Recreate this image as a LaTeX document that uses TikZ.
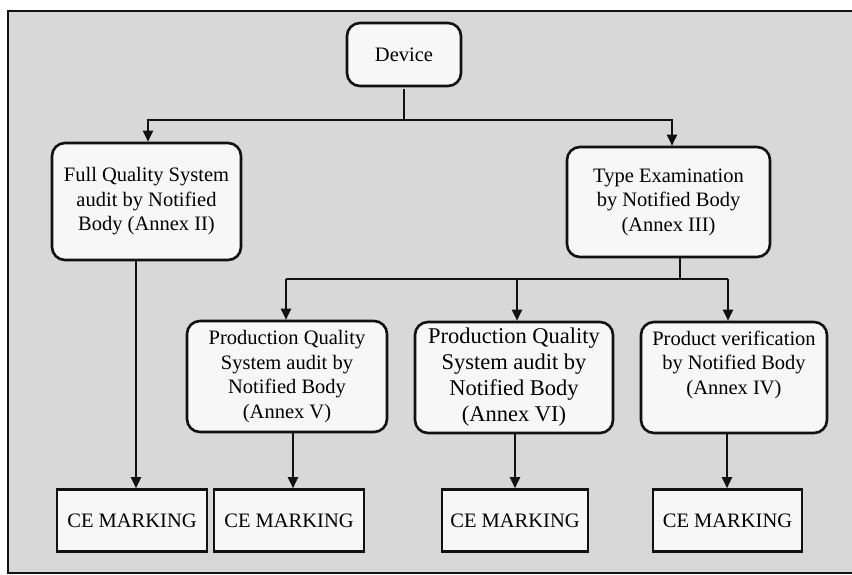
\documentclass[tikz,border=0pt]{standalone}
\usepackage{fontspec}
\setmainfont{Liberation Serif}
\usetikzlibrary{arrows.meta}
\definecolor{panel}{HTML}{D8D8D8}
\definecolor{boxfill}{HTML}{F7F7F7}
\definecolor{ink}{HTML}{111111}
\tikzset{
  roundbox/.style={draw=ink, line width=2.6pt, fill=boxfill, rounded corners=13pt,
    align=center, inner sep=0pt, font=\fontsize{20.5}{24.5}\selectfont},
  cebox/.style={draw=ink, line width=2.6pt, fill=boxfill, inner sep=0pt,
    minimum height=62pt, font=\fontsize{20.5}{24.5}\selectfont},
  plain/.style={align=center, inner sep=0pt, font=\fontsize{20.5}{24.5}\selectfont},
  conn/.style={draw=ink, line width=2.2pt},
  arr/.style={conn, -{Triangle[length=11pt,width=10pt]}},
}
\begin{document}
\begin{tikzpicture}[x=1pt,y=-1pt]
\useasboundingbox (0,0) rectangle (852,574);
\fill[white] (0,0) rectangle (852,574);
% outer panel, open on the right
\fill[panel] (8,11) rectangle (852,574);
\draw[ink, line width=1.8pt] (852,11) -- (8,11) -- (8,573) -- (852,573);

% boxes
\node[roundbox, minimum width=114pt, minimum height=63pt] (dev) at (404,54.5) {Device};
\node[roundbox, minimum width=189pt, minimum height=117pt] (fq) at (146.5,201.5)
  {Full Quality System\\audit by Notified\\Body (Annex II)};
\node[roundbox, minimum width=203pt, minimum height=110pt] (te) at (668.5,202)
  {Type Examination\\by Notified Body\\(Annex III)};
\node[roundbox, minimum width=200pt, minimum height=111pt] (pa) at (287,376.5)
  {Production Quality\\System audit by\\Notified Body\\(Annex V)};
\node[roundbox, minimum width=198pt, minimum height=111pt,
  font=\fontsize{22.5}{26}\selectfont] (pb) at (514,377.5)
  {Production Quality\\System audit by\\Notified Body\\(Annex VI)};
\node[roundbox, minimum width=186pt, minimum height=111pt] (pc) at (734,377.5) {};
\node[plain] (pctext) at (734,364.5) {Product verification\\by Notified Body\\(Annex IV)};

\node[cebox, minimum width=150pt] (ce1) at (132,520.5) {CE MARKING};
\node[cebox, minimum width=150pt] (ce2) at (289,520.5) {CE MARKING};
\node[cebox, minimum width=146pt] (ce3) at (515,520.5) {CE MARKING};
\node[cebox, minimum width=149pt] (ce4) at (727.5,520.5) {CE MARKING};

% junction points of the two buses
\coordinate (bus1) at (404,120);
\coordinate (fqin) at (148,120);
\coordinate (tein) at (672,120);
\coordinate (teout) at (680,279);
\coordinate (pain) at (286,279);
\coordinate (pbin) at (517,279);
\coordinate (pcin) at (728,279);
\coordinate (fqx) at (136,0);
\coordinate (pax) at (293,0);
\coordinate (pbx) at (515,0);
\coordinate (pcx) at (727,0);

% first level
\draw[conn] ([yshift=-2pt]dev.south) -- (bus1);
\draw[arr] (bus1) -- (fqin) -- (fqin |- fq.north);
\draw[arr] (bus1) -- (tein) -- (tein |- te.north);

% second level
\draw[conn] (teout |- te.south) -- (teout);
\draw[conn] (pain) -- (pcin);
\draw[arr] (pain) -- (pain |- pa.north);
\draw[arr] (pbin) -- (pbin |- pb.north);
\draw[arr] (pcin) -- (pcin |- pc.north);

% to the markings
\draw[arr] (fqx |- fq.south) -- (fqx |- ce1.north);
\draw[arr] (pax |- pa.south) -- (pax |- ce2.north);
\draw[arr] (pbx |- pb.south) -- (pbx |- ce3.north);
\draw[arr] (pcx |- pc.south) -- (pcx |- ce4.north);
\end{tikzpicture}
\end{document}
